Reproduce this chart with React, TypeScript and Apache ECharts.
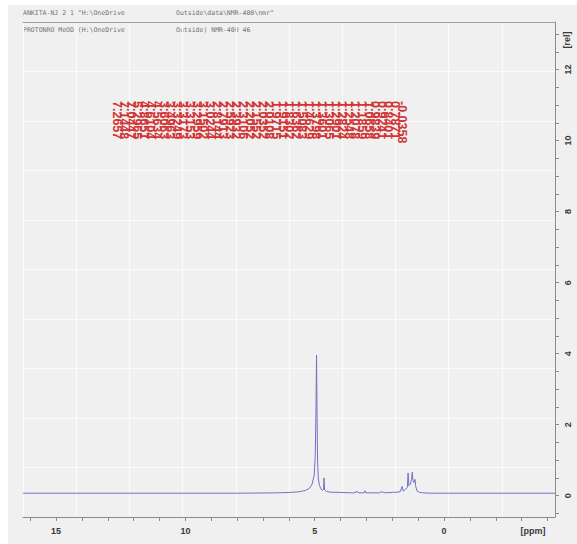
import React, { useEffect, useRef } from "react";
import * as echarts from "echarts";

const headerLine1Left = 'ANKITA-NJ 2 1 "H:\\OneDrive';
const headerLine1Right = 'Outside\\data\\NMR-400\\nmr"';
const headerLine2Left = "PROTONRO MeOD (H:\\OneDrive";
const headerLine2Right = "Outside) NMR-400 46";

// spectrum: chemical shift (ppm) and intensity (rel)
const specPpm = [
  16.28, 8.0, 6.5, 6.0, 5.6, 5.35, 5.2, 5.1, 5.02, 4.98, 4.95, 4.93, 4.91, 4.89, 4.86, 4.82, 4.76,
  4.7, 4.66, 4.64, 4.62, 4.55, 4.4, 4.0, 3.5, 3.42, 3.39, 3.36, 3.33, 3.3, 3.1, 3.06, 3.03, 2.5,
  2.42, 2.39, 2.34, 2.31, 2.0, 1.97, 1.94, 1.7, 1.62, 1.58, 1.5, 1.42, 1.39, 1.36, 1.3, 1.26, 1.23,
  1.2, 1.16, 1.12, 1.1, 1.05, 0.95, 0.8, 0.5, -4.29,
];
const specIntensity = [
  0.07, 0.07, 0.08, 0.09, 0.11, 0.15, 0.21, 0.33, 0.58, 1.15, 2.5, 3.96, 2.3, 0.95, 0.48, 0.29, 0.19,
  0.15, 0.19, 0.5, 0.16, 0.12, 0.1, 0.09, 0.08, 0.09, 0.13, 0.09, 0.11, 0.08, 0.08, 0.14, 0.08, 0.08,
  0.12, 0.08, 0.11, 0.08, 0.09, 0.11, 0.09, 0.11, 0.26, 0.13, 0.17, 0.23, 0.64, 0.28, 0.33, 0.46, 0.66,
  0.42, 0.37, 0.46, 0.28, 0.14, 0.09, 0.08, 0.07, 0.07,
];

// peak list printed above the spectrum
const peakLabels = [
  7.2657, 7.1448, 7.0447, 5.2965, 4.8651, 4.6104, 4.5634, 3.6063, 3.4963, 3.3249, 3.3173, 3.3153,
  3.2959, 3.1502, 3.0244, 2.8144, 2.7913, 2.5923, 2.3932, 2.3106, 2.2052, 2.1552, 2.0352, 2.0108,
  1.9715, 1.9151, 1.8302, 1.6362, 1.5083, 1.4629, 1.3798, 1.3601, 1.3065, 1.2901, 1.2824, 1.2548,
  1.2078, 1.1859, 1.0658, 0.9839, 0.9241, 0.8401, 0.7871, -0.0358,
];

const xTickValues = [-4, -3, -2, -1, 0, 1, 2, 3, 4, 5, 6, 7, 8, 9, 10, 11, 12, 13, 14, 15, 16];
const xLabelValues = [0, 5, 10, 15];
const yTickValues = [
  -0.5, 0, 0.5, 1, 1.5, 2, 2.5, 3, 3.5, 4, 4.5, 5, 5.5, 6, 6.5, 7, 7.5, 8, 8.5, 9, 9.5, 10, 10.5, 11,
  11.5, 12, 12.5, 13,
];
const yLabelValues = [0, 2, 4, 6, 8, 10, 12];

export default function App() {
  const ref = useRef<HTMLDivElement>(null);
  useEffect(() => {
    if (!ref.current) return;
    const chart = echarts.init(ref.current, null, { renderer: "svg" });
    const axisGray = "#8c8c8c";
    const labelFont = { fontSize: 9, fontWeight: "bold" as const, color: "#3a3a3a", fontFamily: "Liberation Sans" };
    const hidden = { show: false };
    const headStyle = { fill: "#707070", fontSize: 6.5, fontFamily: "DejaVu Sans Mono", verticalAlign: "middle" as const };
    chart.setOption({
      animation: false,
      backgroundColor: "transparent",
      grid: [
        { left: 23, right: 22, top: 22, bottom: 27 },
        { left: 114, width: 291, top: 100, height: 1 },
      ],
      xAxis: [
        {
          type: "value",
          gridIndex: 0,
          inverse: true,
          min: -4.29,
          max: 16.28,
          position: "bottom",
          axisLine: { show: true, onZero: false, lineStyle: { color: axisGray, width: 1 } },
          axisTick: { show: true, customValues: xTickValues, length: 4, lineStyle: { color: axisGray } },
          axisLabel: { ...labelFont, customValues: xLabelValues, margin: 9 },
          splitLine: hidden,
        },
        {
          type: "value",
          gridIndex: 0,
          min: 0,
          max: 10,
          interval: 1,
          position: "top",
          axisLine: { show: true, onZero: false, lineStyle: { color: "#a0a0a0", width: 1 } },
          axisTick: hidden,
          axisLabel: hidden,
          splitLine: { show: true, lineStyle: { color: "#fbfbfb", width: 1.2 } },
        },
        {
          type: "category",
          gridIndex: 1,
          data: peakLabels.map((v) => v.toFixed(4)),
          position: "bottom",
          axisLine: hidden,
          axisTick: hidden,
          axisLabel: {
            interval: 0,
            rotate: -90,
            margin: 0,
            fontSize: 12.5,
            fontWeight: "bold",
            color: "#d23434",
            fontFamily: "Liberation Sans",
          },
          splitLine: hidden,
        },
      ],
      yAxis: [
        {
          type: "value",
          gridIndex: 0,
          min: -0.6,
          max: 13.34,
          position: "right",
          axisLine: { show: true, onZero: false, lineStyle: { color: axisGray, width: 1 } },
          axisTick: { show: true, customValues: yTickValues, length: 4, lineStyle: { color: axisGray } },
          axisLabel: { ...labelFont, customValues: yLabelValues, rotate: 90, margin: 8 },
          splitLine: hidden,
        },
        {
          type: "value",
          gridIndex: 0,
          min: 0,
          max: 10,
          interval: 1,
          position: "left",
          axisLine: hidden,
          axisTick: hidden,
          axisLabel: hidden,
          splitLine: { show: true, lineStyle: { color: "#fbfbfb", width: 1.2 } },
        },
        { type: "value", gridIndex: 1, show: false, min: 0, max: 1 },
      ],
      series: [
        {
          type: "line",
          xAxisIndex: 0,
          yAxisIndex: 0,
          data: specPpm.map((p, i) => [p, specIntensity[i]]),
          showSymbol: false,
          symbol: "none",
          lineStyle: { color: "#7272c4", width: 1 },
          z: 5,
        },
      ],
      graphic: [
        { type: "text", x: 23, y: 13, style: { ...headStyle, text: headerLine1Left } },
        { type: "text", x: 176, y: 13, style: { ...headStyle, text: headerLine1Right } },
        { type: "text", x: 23, y: 30, style: { ...headStyle, text: headerLine2Left } },
        { type: "text", x: 176, y: 30, style: { ...headStyle, text: headerLine2Right } },
        {
          type: "text",
          x: 533,
          y: 531,
          style: { text: "[ppm]", fill: "#3a3a3a", fontSize: 9, fontWeight: "bold", fontFamily: "Liberation Sans", align: "center", verticalAlign: "middle" },
        },
        {
          type: "text",
          x: 567,
          y: 40,
          rotation: Math.PI / 2,
          style: { text: "[rel]", fill: "#3a3a3a", fontSize: 9, fontWeight: "bold", fontFamily: "Liberation Sans", align: "center", verticalAlign: "middle" },
        },
      ],
    });
    return () => chart.dispose();
  }, []);
  return (
    <div style={{ position: "absolute", left: 0, top: 0, width: 577, height: 544, background: "#ffffff" }}>
      <div style={{ position: "absolute", left: 8, top: 5, width: 569, height: 539, background: "#f0f0f0" }} />
      <div ref={ref} style={{ position: "absolute", left: 0, top: 0, width: 577, height: 544 }} />
    </div>
  );
}
